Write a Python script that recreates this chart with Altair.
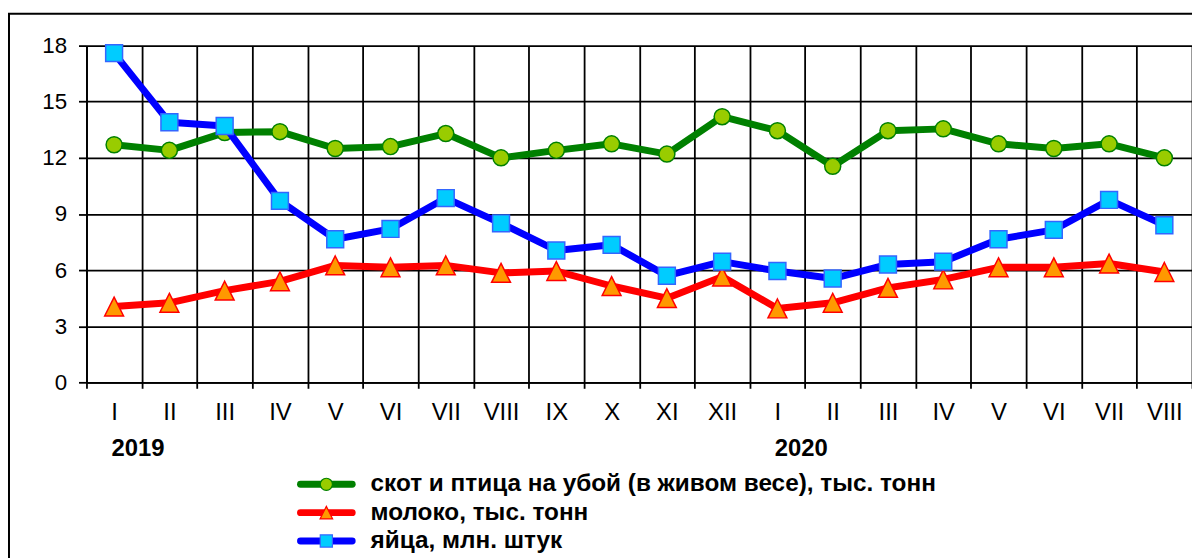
import altair as alt
import pandas as pd

# ---- data ----
months = ["I", "II", "III", "IV", "V", "VI", "VII", "VIII", "IX", "X", "XI", "XII",
          "I", "II", "III", "IV", "V", "VI", "VII", "VIII"]
years = [2019] * 12 + [2020] * 8
year_labels = ["2019", "2020"]

series_names = [
    "скот и птица на убой (в живом весе), тыс. тонн",
    "молоко, тыс. тонн",
    "яйца, млн. штук",
]
livestock = [12.7, 12.4, 13.35, 13.4, 12.5, 12.6, 13.3, 12.0, 12.4, 12.75, 12.2, 14.2,
             13.45, 11.55, 13.45, 13.55, 12.75, 12.5, 12.75, 12.0]
milk = [4.05, 4.25, 4.9, 5.4, 6.25, 6.15, 6.25, 5.85, 5.95, 5.15, 4.5, 5.65,
        3.95, 4.25, 5.05, 5.5, 6.15, 6.15, 6.35, 5.9]
eggs = [17.6, 13.9, 13.7, 9.7, 7.65, 8.2, 9.85, 8.5, 7.05, 7.35, 5.7, 6.45,
        5.95, 5.55, 6.3, 6.45, 7.65, 8.15, 9.75, 8.4]
y_ticks = [0, 3, 6, 9, 12, 15, 18]

# ---- styles ----
FONT = "Liberation Sans, Arial, sans-serif"
W, H = 1113, 339
TRI = "M0,-1L1,1L-1,1Z"
styles = [
    dict(line="#008000", shape="circle", fill="#99CC00", stroke="#008000", size=260, lsize=150),
    dict(line="#FF0000", shape=TRI, fill="#FF9900", stroke="#FF0000", size=361, lsize=160),
    dict(line="#0000FF", shape="square", fill="#00CCFF", stroke="#3366FF", size=289, lsize=150),
]
values = [livestock, milk, eggs]

keys = [f"{m} {y}" for m, y in zip(months, years)]

x_enc = alt.X(
    "key:N",
    sort=keys,
    bandPosition=0.5,
    scale=alt.Scale(type="band", domain=keys, paddingInner=0, paddingOuter=0),
    axis=alt.Axis(
        title=None,
        labelExpr="split(datum.label, ' ')[0]",
        tickBand="extent",
        grid=True, gridColor="black", gridWidth=1.8, gridOpacity=1,
        tickColor="black", tickSize=6, tickWidth=1.8,
        domainColor="black", domainWidth=1.8,
        labelFont=FONT, labelFontSize=24, labelColor="black",
        labelPadding=12, labelAngle=0,
    ),
)
y_enc = alt.Y(
    "value:Q",
    scale=alt.Scale(domain=[0, 18], nice=False, zero=True),
    axis=alt.Axis(
        title=None, values=y_ticks,
        grid=True, gridColor="black", gridWidth=1.8, gridOpacity=1,
        tickColor="black", tickSize=8, tickWidth=1.8,
        domainColor="black", domainWidth=1.8,
        labelFont=FONT, labelFontSize=22.5, labelColor="black", labelPadding=12,
    ),
)

layers = []

# outer frame
frame = alt.Chart(pd.DataFrame({"a": [0]})).mark_rect(
    fill="transparent", stroke="black", strokeWidth=2
).encode(x=alt.value(-78), y=alt.value(-32), x2=alt.value(W + 40), y2=alt.value(H + 300))
layers.append(frame)

for name, vals, st in zip(series_names, values, styles):
    df = pd.DataFrame({"key": keys, "value": vals, "series": name})
    base = alt.Chart(df).encode(x=x_enc, y=y_enc)
    layers.append(base.mark_line(color=st["line"], strokeWidth=7, strokeJoin="round"))
    layers.append(base.mark_point(
        shape=st["shape"], filled=True, fill=st["fill"], stroke=st["stroke"],
        strokeWidth=1.5, size=st["size"], opacity=1,
    ))

# year labels under the axis
ydf = pd.DataFrame({"key": [keys[0], keys[12]], "label": year_labels})
layers.append(
    alt.Chart(ydf).mark_text(
        font=FONT, fontSize=24, fontWeight="bold", color="black",
        align="center", baseline="alphabetic", dx=24,
    ).encode(x=x_enc, y=alt.value(413), text="label:N")
)

# legend
row_y = [441.7, 470.2, 498.7]
for name, st, ry in zip(series_names, styles, row_y):
    ldf = pd.DataFrame({"name": [name]})
    lb = alt.Chart(ldf)
    layers.append(lb.mark_rule(color=st["line"], strokeWidth=7, strokeCap="round").encode(
        x=alt.value(215.5), x2=alt.value(267.5), y=alt.value(ry)))
    layers.append(lb.mark_point(
        shape=st["shape"], filled=True, fill=st["fill"], stroke=st["stroke"],
        strokeWidth=1.2, size=st["lsize"], opacity=1,
    ).encode(x=alt.value(241.5), y=alt.value(ry)))
    layers.append(lb.mark_text(
        font=FONT, fontSize=24.5, fontWeight="bold", color="black",
        align="left", baseline="middle",
    ).encode(x=alt.value(286), y=alt.value(ry), text="name:N"))

chart = alt.layer(*layers).properties(
    width=W, height=H,
    autosize=alt.AutoSizeParams(type="none"),
    padding={"left": 79, "top": 36, "right": 0, "bottom": 175},
    background="white",
).configure_view(strokeWidth=0)

chart.save("out.html", embed_options={"renderer": "svg", "actions": False})
